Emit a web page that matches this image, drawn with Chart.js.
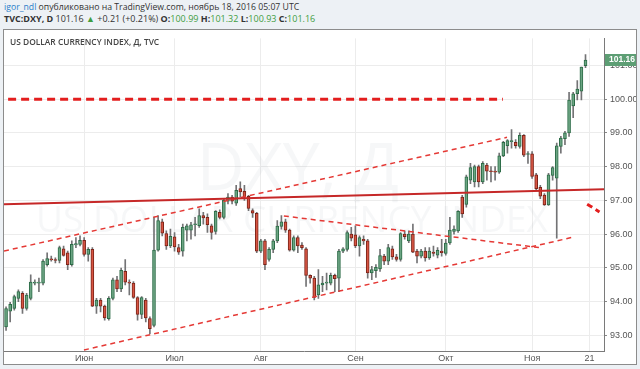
<!DOCTYPE html>
<html><head><meta charset="utf-8">
<script src="https://cdn.jsdelivr.net/npm/chart.js@4"></script>
<style>
html,body{margin:0;padding:0;width:640px;height:369px;background:#edf1f5;overflow:hidden;font-family:'Open Sans',sans-serif;}
.hdr{position:absolute;left:4px;color:#333;white-space:nowrap;line-height:11px;}
#hdr1{top:2px;font-size:8.7px;}
#hdr2{top:13px;font-size:9px;}
.g{color:#3f9d3f;}
#box{position:absolute;left:3px;top:29px;width:632px;height:334px;border:1px solid #8c8c8c;background:#fff;}
#title{position:absolute;left:10px;top:36px;font-size:8.4px;font-weight:600;color:#444;z-index:2;white-space:nowrap;}
canvas{display:block}
</style></head>
<body>
<div id="hdr1" class="hdr"><span style="color:#2a7fc9">igor_ndl</span> опубликовано на TradingView.com, ноябрь 18, 2016 05:07 UTC</div>
<div id="hdr2" class="hdr"><b>TVC:DXY, D</b> 101.16 <span class="g">▲</span> +0.21 (+0.21%) <b>O:</b><span class="g">100.99</span> <b>H:</b><span class="g">101.32</span> <b>L:</b><span class="g">100.93</span> <b>C:</b><span class="g">101.16</span></div>
<div id="box"><canvas id="c" width="632" height="334"></canvas></div>
<div id="title">US DOLLAR CURRENCY INDEX, Д, TVC</div>
<script>
// Daily candles, trading-day index 0 = 5 May 2016 ... 141 = 18 Nov 2016
const opens = [93.25,93.72,93.8,94.1,94.25,93.8,94.1,94.55,94.55,94.55,
95.1,95.27,95.24,95.22,95.57,95.45,95.1,95.68,95.7,95.82,
95.4,95.55,93.87,94.05,93.87,93.5,94.1,94.65,94.38,94.9,
94.58,94.55,94.12,93.62,94.05,93.5,93.3,95.53,96.37,96.02,
95.65,95.92,95.6,95.5,96.12,96.12,96.28,96.25,96.55,96.5,
96.25,96.08,96.65,96.5,96.98,97.1,96.92,97.35,97.27,97.12,
96.7,96.62,95.5,95.8,95.25,95.55,95.8,96.23,96.37,96.12,
95.53,95.9,95.68,95.57,94.78,94.7,94.2,94.5,94.55,94.55,
94.78,94.7,95.5,95.55,96.0,95.98,95.65,95.85,95.8,94.85,
94.92,94.97,95.35,95.2,95.57,95.33,95.25,96.0,95.8,96.0,
95.5,95.35,95.5,95.3,95.47,95.38,95.5,95.43,95.74,96.08,
96.1,97.1,96.88,97.6,97.55,98.0,97.55,98.05,97.87,97.87,
97.84,98.32,98.62,98.74,98.72,98.6,98.93,98.36,98.38,97.76,
97.39,97.16,96.87,97.74,97.66,98.6,98.83,99.0,99.8,100.16,
100.24,100.99];
const highs = [93.85,93.98,94.2,94.35,94.3,94.25,94.8,94.65,94.7,95.25,
95.45,95.35,95.3,95.65,95.65,95.5,95.8,95.9,95.95,95.9,
95.6,95.6,94.1,94.1,93.9,94.15,94.7,94.75,95.0,95.25,
94.65,94.6,94.15,94.15,94.1,93.55,96.5,96.55,96.45,96.1,
96.15,96.05,95.7,96.3,96.3,96.35,96.5,96.75,96.65,96.6,
96.3,96.7,96.72,97.05,97.2,97.15,97.45,97.55,97.45,97.15,
96.75,96.65,95.85,95.85,95.6,95.85,96.4,96.55,96.45,96.15,
95.95,95.95,95.75,95.6,94.8,94.75,94.95,94.75,94.85,94.85,
94.82,95.55,95.6,96.1,96.2,96.25,95.95,95.95,95.85,95.05,
95.1,95.55,95.4,95.7,95.65,95.4,96.05,96.1,96.1,96.3,
95.55,95.55,95.6,95.6,95.65,95.6,95.85,95.85,96.5,96.25,
96.7,97.15,97.75,98.1,98.05,98.05,98.15,98.1,98.0,98.0,
98.4,98.75,98.8,99.1,98.8,99.0,98.95,98.45,98.45,97.8,
97.45,97.2,97.8,98.0,98.7,98.9,99.05,100.2,100.2,100.55,
100.95,101.32];
const lows = [93.15,93.4,93.75,94.0,93.65,93.75,94.05,94.5,94.3,94.5,
95.05,95.2,95.15,95.15,95.35,94.95,95.05,95.6,95.65,95.35,
95.2,93.85,93.65,93.7,93.45,93.45,94.05,94.3,94.3,94.5,
94.2,94.1,93.45,93.5,93.4,93.05,93.25,95.5,95.95,95.55,
95.6,95.5,95.4,95.35,95.8,95.85,95.95,96.2,96.3,96.05,
95.85,96.0,96.45,96.45,96.9,96.9,96.85,97.1,97.0,96.7,
96.5,95.45,95.45,94.95,95.2,95.45,95.75,96.15,96.05,95.5,
95.5,95.45,95.55,94.45,94.55,94.05,94.1,94.3,94.35,94.5,
94.3,94.3,95.45,95.5,95.8,95.6,95.35,95.7,94.7,94.65,
94.72,94.9,95.1,95.1,95.25,95.2,95.2,95.85,95.75,95.45,
95.15,95.3,95.2,95.25,95.35,95.3,95.35,95.38,95.7,96.0,
96.05,96.5,96.8,97.5,97.4,97.4,97.5,97.6,97.55,97.6,
97.8,98.3,98.4,98.55,98.55,98.55,98.3,98.1,97.65,97.3,
97.05,96.85,96.85,97.6,95.88,98.4,98.65,98.9,99.45,99.98,
99.98,100.93];
const closes = [93.8,93.92,94.15,94.3,93.8,94.2,94.58,94.55,94.56,95.2,
95.28,95.24,95.22,95.6,95.37,95.1,95.7,95.72,95.82,95.4,
95.55,93.87,94.05,93.87,93.52,94.1,94.65,94.38,94.93,94.58,
94.55,94.13,93.62,94.12,93.52,93.2,95.53,96.4,96.03,95.65,
95.94,95.62,95.47,96.2,96.25,96.28,96.3,96.55,96.48,96.28,
96.05,96.68,96.5,97.0,97.1,96.98,97.3,97.25,97.1,96.76,
96.62,95.5,95.8,95.1,95.55,95.8,96.24,96.37,96.12,95.53,
95.9,95.65,95.6,94.78,94.7,94.13,94.5,94.55,94.57,94.78,
94.68,95.5,95.57,96.05,95.88,95.65,95.9,95.8,94.85,94.95,
95.02,95.37,95.2,95.6,95.33,95.25,96.02,95.93,96.0,95.47,
95.35,95.5,95.3,95.5,95.43,95.52,95.45,95.74,96.12,96.15,
96.68,96.6,97.7,97.97,98.0,97.55,98.1,97.87,97.85,97.84,
98.32,98.72,98.77,98.75,98.62,98.93,98.34,98.38,97.71,97.35,
97.13,96.87,97.76,97.97,98.62,98.85,99.0,99.97,100.16,100.3,
100.95,101.16];

const totalSlots = 146;               // 142 trading days + 4 empty future days
const tickIdx = [19, 41, 62, 85, 107, 128, 142];
const tickLabels = ['Июн', 'Июл', 'Авг', 'Сен', 'Окт', 'Ноя', '21'];
const yTicks = [93, 94, 95, 96, 97, 98, 99, 100, 101];
const yMin = 92.54, yMax = 101.80;
const lastPrice = 101.16;

// drawn trend lines: [startIndex, startPrice, endIndex, endPrice]
const level100 = [0.5, 100.0, 120.9, 100.0];
const solidTrend = [-0.5, 96.89, 145.5, 97.33];
const upperChannel = [-0.5, 95.5, 121.9, 98.87];
const lowerChannel = [18.96, 92.57, 137.9, 95.91];
const descLine = [67.6, 96.54, 129.9, 95.6];
const shortSeg = [141.4, 96.89, 144.4, 96.66];

const upFill = '#6ba583', upBorder = '#2c6b47', dnFill = '#d75442', dnBorder = '#7a2318', wickCol = '#737375';

const bodies = opens.map((o, i) => ({x: i, y: [Math.min(o, closes[i]), Math.max(o, closes[i])]}));
const wicks = lows.map((l, i) => ({x: i, y: [l, highs[i]]}));
const isUp = opens.map((o, i) => closes[i] >= o);

function seg(a, color, width, dash) {
  return {type: 'line', data: [{x: a[0], y: a[1]}, {x: a[2], y: a[3]}], borderColor: color, borderWidth: width,
    borderDash: dash, pointRadius: 0, fill: false, tension: 0, order: 0, clip: 0};
}

const watermark = {
  id: 'wm',
  beforeDatasetsDraw(chart) {
    const {ctx} = chart;
    ctx.save();
    ctx.fillStyle = 'rgba(110,120,130,0.06)';
    ctx.textAlign = 'center';
    ctx.font = '66px "Open Sans", sans-serif';
    ctx.fillText('DXY, Д', 294, 160);
    ctx.font = '37px "Open Sans", sans-serif';
    ctx.fillText('US DOLLAR CURRENCY INDEX', 288, 202);
    ctx.restore();
  }
};
const priceTag = {
  id: 'tag',
  afterDraw(chart) {
    const {ctx, chartArea} = chart;
    const y = chart.scales.y.getPixelForValue(lastPrice);
    ctx.save();
    ctx.fillStyle = '#5d9e74';
    ctx.fillRect(chartArea.right + 1, Math.round(y) - 6, chart.width - chartArea.right - 1, 12);
    ctx.fillStyle = '#fff';
    ctx.font = 'bold 8.5px "Liberation Sans Narrow", "Liberation Sans", sans-serif';
    ctx.textBaseline = 'middle';
    ctx.fillText(lastPrice.toFixed(2), chartArea.right + 5, Math.round(y));
    ctx.restore();
  }
};

const axisFont = {family: '"Liberation Sans Narrow", "Liberation Sans", sans-serif', size: 9};

new Chart(document.getElementById('c'), {
  type: 'bar',
  data: {
    datasets: [
      seg(level100, '#e31e1e', 3, [8, 5]),
      seg(shortSeg, '#e31e1e', 3, [6, 4]),
      seg(solidTrend, '#c62828', 2, []),
      seg(upperChannel, '#e53935', 1.5, [5, 4]),
      seg(lowerChannel, '#e53935', 1.5, [5, 4]),
      seg(descLine, '#e53935', 1.5, [5, 4]),
      {label: 'body', data: bodies, backgroundColor: isUp.map(u => u ? upFill : dnFill),
        borderColor: isUp.map(u => u ? upBorder : dnBorder), borderWidth: 1, borderSkipped: false,
        barThickness: 3, minBarLength: 1, grouped: false, order: 1},
      {label: 'wick', data: wicks, backgroundColor: wickCol, barThickness: 1, grouped: false, order: 2}
    ]
  },
  options: {
    responsive: false, animation: false, devicePixelRatio: 1,
    layout: {padding: 0},
    plugins: {legend: {display: false}, tooltip: {enabled: false}},
    scales: {
      x: {type: 'linear', min: -0.5, max: totalSlots - 0.5, position: 'bottom', offset: false,
        grid: {color: '#ececec', drawTicks: false, offset: false}, border: {color: '#7a7a7a'},
        ticks: {font: axisFont, color: '#555', padding: 2, autoSkip: false, maxRotation: 0,
          callback: (v, i) => tickLabels[i]},
        afterBuildTicks: s => { s.ticks = tickIdx.map(v => ({value: v})); },
        afterFit: s => { s.height = 13; }},
      y: {type: 'linear', position: 'right', min: yMin, max: yMax,
        grid: {color: '#ececec', tickColor: '#888', tickLength: 3}, border: {color: '#7a7a7a'},
        ticks: {font: axisFont, color: '#555', padding: 3, callback: v => v.toFixed(2)},
        afterBuildTicks: s => { s.ticks = yTicks.map(v => ({value: v})); },
        afterFit: s => { s.width = 32; }}
    }
  },
  plugins: [watermark, priceTag]
});
</script>
</body></html>
